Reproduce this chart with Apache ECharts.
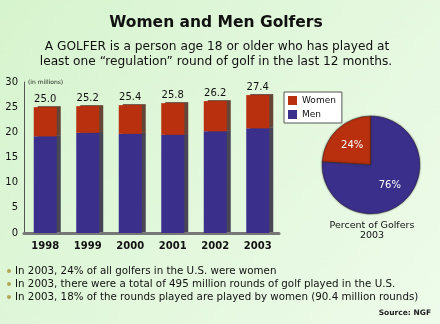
<!DOCTYPE html>
<html><head><meta charset="utf-8">
<script src="https://cdn.jsdelivr.net/npm/echarts@6/dist/echarts.min.js"></script>
<style>html,body{margin:0;padding:0;}#c{width:440px;height:324px;}</style>
</head><body><div id="c"></div>
<script>
const years = ['1998','1999','2000','2001','2002','2003'];
const totals = [25.0, 25.2, 25.4, 25.8, 26.2, 27.4];
const men = [19.2, 19.9, 19.7, 19.5, 20.2, 20.8];
const women = [5.8, 5.3, 5.7, 6.3, 6.0, 6.6];
const pieNames = ['Women', 'Men'];
const piePct = [24, 76];
const yTicks = [0, 5, 10, 15, 20, 25, 30];
const notes = [
  'In 2003, 24% of all golfers in the U.S. were women',
  'In 2003, there were a total of 495 million rounds of golf played in the U.S.',
  'In 2003, 18% of the rounds played are played by women (90.4 million rounds)'
];
const RED = '#b8300e', BLUE = '#3b2f8c';
const F = 'Verdana, "DejaVu Sans", sans-serif';
const chart = echarts.init(document.getElementById('c'));
const graphics = [
  {type:'text', x:216, y:23, style:{text:'Women and Men Golfers', font:'bold 15.5px '+F, fill:'#111', align:'center', verticalAlign:'middle'}},
  {type:'text', x:217, y:47, style:{text:'A GOLFER is a person age 18 or older who has played at', font:'12.2px '+F, fill:'#111', align:'center', verticalAlign:'middle'}},
  {type:'text', x:216, y:62, style:{text:'least one \u201cregulation\u201d round of golf in the last 12 months.', font:'12.2px '+F, fill:'#111', align:'center', verticalAlign:'middle'}},
  {type:'text', x:28, y:82, style:{text:'(in millions)', font:'6px '+F, fill:'#222', verticalAlign:'middle'}},
  {type:'text', x:372, y:226, style:{text:'Percent of Golfers', font:'9.5px '+F, fill:'#111', align:'center', verticalAlign:'middle'}},
  {type:'text', x:372, y:236, style:{text:'2003', font:'9.5px '+F, fill:'#111', align:'center', verticalAlign:'middle'}},
  {type:'text', x:431, y:313, style:{text:'Source: NGF', font:'bold 7.5px '+F, fill:'#222', align:'right', verticalAlign:'middle'}}
];
notes.forEach((t,i)=>{
  graphics.push({type:'circle', shape:{cx:9, cy:271+i*13, r:2}, style:{fill:'#b0a850'}});
  graphics.push({type:'text', x:15, y:271+i*13, style:{text:t, font:'10.3px '+F, fill:'#111', verticalAlign:'middle'}});
});
chart.setOption({
  backgroundColor: new echarts.graphic.LinearGradient(0,0,1,1,[{offset:0,color:'#d6f4ce'},{offset:1,color:'#eefbea'}]),
  animation:false,
  textStyle:{fontFamily:F},
  graphic: graphics,
  legend:{
    data:pieNames, orient:'vertical', left:284, top:92, itemWidth:9, itemHeight:9, itemGap:5,
    borderColor:'#555', borderWidth:1, padding:[4,6,4,4], backgroundColor:'#fff',
    textStyle:{fontSize:9, color:'#111'}, icon:'rect'
  },
  grid:{left:24, right:161, top:82, bottom:91, containLabel:false},
  xAxis:{type:'category', data:years, axisTick:{show:false},
    axisLine:{lineStyle:{color:'#777', width:3}},
    axisLabel:{fontSize:10, color:'#111', fontWeight:'bold', margin:8}},
  yAxis:{type:'value', min:0, max:30, interval:5,
    axisLine:{show:true, lineStyle:{color:'#555', width:1}},
    axisTick:{show:false}, splitLine:{show:false},
    axisLabel:{fontSize:10, color:'#111', margin:6, formatter:v=>yTicks.includes(v)?String(v):''}},
  series:[
    {type:'bar', name:'Men', stack:'a', data:men, barWidth:23, itemStyle:{color:BLUE, shadowColor:'rgba(20,10,40,0.75)', shadowOffsetX:4, shadowOffsetY:-1}},
    {type:'bar', name:'Women', stack:'a', data:women, barWidth:23, itemStyle:{color:RED, shadowColor:'rgba(60,10,0,0.75)', shadowOffsetX:4, shadowOffsetY:-1},
      label:{show:true, position:'top', fontSize:10, color:'#111', distance:3, formatter:p=>totals[p.dataIndex].toFixed(1)}},
    {type:'pie', center:[371,165], radius:[0,49], startAngle:90, clockwise:false,
      data:pieNames.map((n,i)=>({name:n, value:piePct[i], itemStyle:{color:i===0?RED:BLUE}})),
      label:{show:true, position:'inside', color:'#fff', fontSize:10, formatter:'{c}%'},
      labelLine:{show:false},
      itemStyle:{borderColor:'#333', borderWidth:0.5, shadowColor:'rgba(0,0,0,0.4)', shadowBlur:2}}
  ]
});
</script></body></html>
